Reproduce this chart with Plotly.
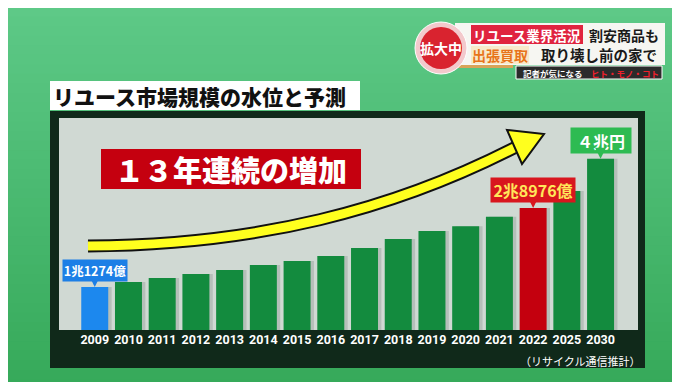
import plotly.graph_objects as go

# ---------------- data ----------------
years = ["2009", "2010", "2011", "2012", "2013", "2014", "2015", "2016",
         "2017", "2018", "2019", "2020", "2021", "2022", "2025", "2030"]
market_oku = [11274, 12400, 13300, 14200, 15100, 16200, 17100, 18200,
              20000, 22000, 23800, 24900, 27000, 28976, 32800, 40000]
highlight_colors = {"2009": "#1C88EE", "2022": "#C4000E"}
base_color = "#138B3E"
callout_labels = {"2009": "1兆1274億", "2022": "2兆8976億", "2030": "４兆円"}
callout_bg = {"2009": "#1C7FE6", "2022": "#D8161E", "2030": "#2DBB52"}
callout_fg = {"2009": "#FFFFFF", "2022": "#FFE65A", "2030": "#FFFFFF"}
callout_size = {"2009": 12.5, "2022": 16, "2030": 16}
callout_box = {"2009": (64, 21), "2022": (84, 24), "2030": (60, 25)}

title_text = "リユース市場規模の水位と予測"
headline = "１３年連続の増加"
source_text = "（リサイクル通信推計）"

JP = "Noto Sans CJK JP"

# ---------------- geometry helpers (pixel -> paper) ----------------
W, H = 680, 382
L, R, T, B = 51, 630, 110, 322
def px(x):
    return (x - L) / (R - L)
def py(y):
    return (B - y) / (B - T)

bar_colors = [highlight_colors.get(y, base_color) for y in years]

fig = go.Figure()
# subtle shadow
fig.add_trace(go.Bar(x=years, y=market_oku, width=0.8, offset=-0.3,
                     marker=dict(color="rgba(60,70,65,0.18)", line=dict(width=0)),
                     hoverinfo="skip", showlegend=False))
fig.add_trace(go.Bar(x=years, y=market_oku, width=0.8, offset=-0.4,
                     marker=dict(color=bar_colors, line=dict(width=0)),
                     showlegend=False))

shapes = []
# background gradient
n = 40
top_c = (94, 201, 135)
bot_c = (54, 170, 90)
for i in range(n):
    f = i / (n - 1)
    c = tuple(int(top_c[k] + (bot_c[k] - top_c[k]) * f) for k in range(3))
    y0 = i * H / n
    y1 = (i + 1) * H / n + 1
    shapes.append(dict(type="rect", xref="paper", yref="paper",
                       x0=px(-2), x1=px(W + 2), y0=py(y0 - 1), y1=py(y1),
                       fillcolor="rgb(%d,%d,%d)" % c, line=dict(width=0), layer="below"))
# dark frame
shapes.append(dict(type="rect", xref="paper", yref="paper",
                   x0=px(42), x1=px(637), y0=py(103), y1=py(360),
                   fillcolor="#10291A", line=dict(width=0), layer="below"))
# gray plot area
shapes.append(dict(type="rect", xref="paper", yref="paper",
                   x0=px(51), x1=px(630), y0=py(110), y1=py(322),
                   fillcolor="#D0D9D3", line=dict(width=0), layer="below"))
# title box
shapes.append(dict(type="rect", xref="paper", yref="paper",
                   x0=px(42), x1=px(352), y0=py(73), y1=py(102),
                   fillcolor="#FFFFFF", line=dict(width=0), layer="below"))
# headline red box
shapes.append(dict(type="rect", xref="paper", yref="paper",
                   x0=px(93), x1=px(353), y0=py(141), y1=py(181),
                   fillcolor="#C5000F", line=dict(width=0), layer="above"))

# yellow arrow
def pt(x, y):
    return "%.5f,%.5f" % (px(x), py(y))
curve = "M " + pt(80, 238) + " C " + pt(250, 237) + " " + pt(385, 202) + " " + pt(508, 139)
shapes.append(dict(type="path", xref="paper", yref="paper", path=curve,
                   line=dict(color="#111111", width=13), layer="above"))
shapes.append(dict(type="path", xref="paper", yref="paper", path=curve,
                   line=dict(color="#FFFF1E", width=9), layer="above"))
head = "M " + pt(499, 122) + " L " + pt(536, 126) + " L " + pt(514, 156) + " Z"
shapes.append(dict(type="path", xref="paper", yref="paper", path=head,
                   fillcolor="#FFFF1E", line=dict(color="#111111", width=2), layer="above"))

# top-right banner
shapes.append(dict(type="rect", xref="paper", yref="paper",
                   x0=px(450), x1=px(505), y0=py(53), y1=py(60),
                   fillcolor="#D8A458", line=dict(width=0), layer="above"))
shapes.append(dict(type="rect", xref="paper", yref="paper",
                   x0=px(447), x1=px(657), y0=py(15), y1=py(57),
                   fillcolor="#F6F6F2", line=dict(width=0), layer="above"))
shapes.append(dict(type="circle", xref="paper", yref="paper",
                   x0=px(407), x1=px(459), y0=py(14), y1=py(66),
                   fillcolor="#F3C9CC", line=dict(color="#FFFFFF", width=1), layer="above"))
shapes.append(dict(type="circle", xref="paper", yref="paper",
                   x0=px(412), x1=px(454), y0=py(19), y1=py(61),
                   fillcolor="#D9232F", line=dict(width=0), layer="above"))
shapes.append(dict(type="rect", xref="paper", yref="paper",
                   x0=px(463), x1=px(575), y0=py(17), y1=py(36),
                   fillcolor="#E0243F", line=dict(width=0), layer="above"))
shapes.append(dict(type="rect", xref="paper", yref="paper",
                   x0=px(463), x1=px(521), y0=py(38), y1=py(56),
                   fillcolor="#F7EACB", line=dict(width=0), layer="above"))
shapes.append(dict(type="rect", xref="paper", yref="paper",
                   x0=px(508), x1=px(654), y0=py(58), y1=py(71),
                   fillcolor="#2B2B2B", line=dict(color="#FFFFFF", width=1), layer="above"))

annotations = []
def text_at(x, y, text, size, color, anchor="center", family=JP, weight="bold"):
    annotations.append(dict(xref="paper", yref="paper", x=px(x), y=py(y), text=text,
                            showarrow=False, xanchor=anchor, yanchor="middle", borderpad=0,
                            font=dict(family=family, size=size, color=color, weight=weight)))

text_at(44, 88, title_text, 21, "#111111", anchor="left", weight=900)
text_at(223, 161, headline, 29, "#FFFFFF", weight=900)
text_at(433, 40, "拡大中", 14, "#FFFFFF")
text_at(519, 27, "リユース業界活況", 13.5, "#FFFFFF")
text_at(616, 27, "割安商品も", 14, "#1A1A1A")
text_at(492, 47, "出張買取", 14, "#E8741A")
text_at(591, 47, "取り壊し前の家で", 14.5, "#1A1A1A")
text_at(545, 64.5, "記者が気になる", 8.5, "#FFFFFF")
text_at(617, 64.5, "ヒト・モノ・コト", 8.5, "#F0202C")
text_at(633, 353, source_text, 11, "#FFFFFF", anchor="right", weight="normal")

# callouts on bars (box + pointer via the annotation arrow)
gap = 6
for yr, lab in callout_labels.items():
    i = years.index(yr)
    v = market_oku[i]
    bw, bh = callout_box[yr]
    annotations.append(dict(xref="x", yref="y", x=i, y=v, text=lab,
                            showarrow=True, ax=0, ay=-(gap + bh / 2),
                            arrowhead=2, arrowsize=1, arrowwidth=2.2, arrowcolor=callout_bg[yr],
                            standoff=0,
                            width=bw, height=bh, borderpad=0, bgcolor=callout_bg[yr],
                            font=dict(family=JP, size=callout_size[yr], color=callout_fg[yr], weight="bold")))

fig.update_layout(
    width=W, height=H,
    margin=dict(l=L, r=W - R, t=T, b=H - B, pad=0),
    paper_bgcolor="#4FBF7A", plot_bgcolor="rgba(0,0,0,0)",
    barmode="overlay", bargap=0.2,
    shapes=shapes, annotations=annotations,
    xaxis=dict(type="category", range=[-1.06, 16.11], showgrid=False, zeroline=False,
               showline=False, ticks="", tickfont=dict(family="Roboto", size=12.5, color="#FFFFFF", weight="bold")),
    yaxis=dict(range=[1636, 49138], showgrid=False, zeroline=False, showline=False,
               showticklabels=False, ticks=""),
    showlegend=False,
)

fig.write_html("out.html")
